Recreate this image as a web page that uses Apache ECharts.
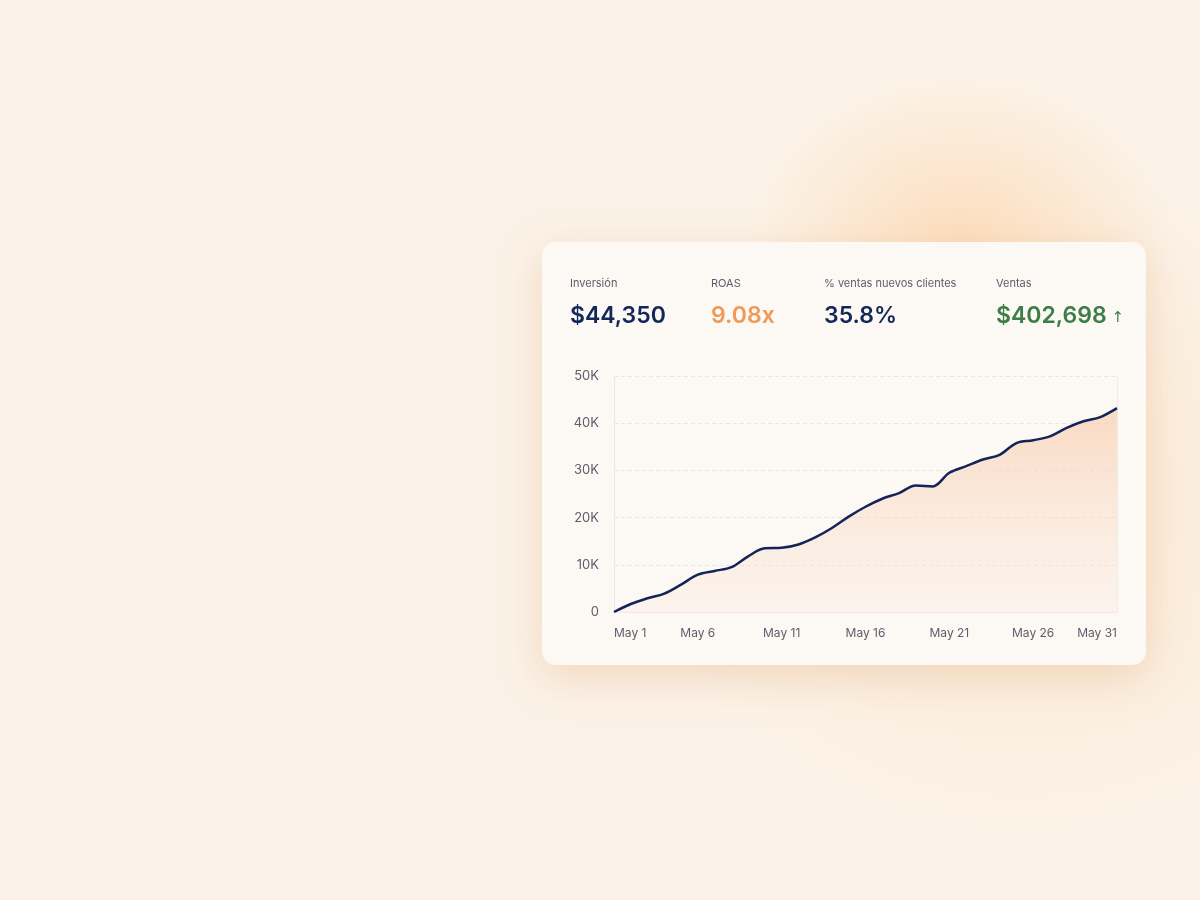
<!DOCTYPE html>
<html>
<head>
<meta charset="utf-8">
<script src="https://cdn.jsdelivr.net/npm/echarts@6/dist/echarts.min.js"></script>
<style>
  html, body { margin: 0; padding: 0; }
  body {
    width: 1200px; height: 900px; overflow: hidden;
    background:
      radial-gradient(ellipse 210px 160px at 960px 235px, rgba(253,216,178,0.75), rgba(253,216,178,0) 100%),
      radial-gradient(ellipse 380px 340px at 1020px 500px, rgba(252,224,194,0.5), rgba(252,224,194,0) 100%),
      #fbf2e7;
  }
  #canvas_main { width: 1200px; height: 900px; }
</style>
</head>
<body>
<div id="canvas_main"></div>
<script>
// KPI header
var kpiNames = ['Inversión', 'ROAS', '% ventas nuevos clientes', 'Ventas'];
var kpiValues = ['$44,350', '9.08x', '35.8%', '$402,698'];
var kpiArrows = ['', '', '', '↑'];
var kpiColors = ['#14275a', '#f09a58', '#14275a', '#3d7d48'];
var kpiLeft = [570, 711, 824, 996];

// daily cumulative sales, May 1 .. May 31
var days = [];
for (var d = 1; d <= 31; d++) days.push('May ' + d);
var sales = [0, 1700, 2900, 3900, 5800, 7900, 8700, 9500, 11800, 13500,
	13600, 14300, 15800, 17800, 20200, 22300, 24000, 25200, 26800, 26600,
	29500, 30900, 32300, 33300, 35800, 36400, 37200, 39000, 40400, 41300, 43200];

var yTicks = [0, 10000, 20000, 30000, 40000, 50000];

var myChart = echarts.init(document.getElementById('canvas_main'), null, { renderer: 'canvas' });

var titles = [];
for (var i = 0; i < kpiNames.length; i++) {
	titles.push({
		text: kpiNames[i],
		left: kpiLeft[i], top: 278,
		padding: 0,
		textStyle: { fontFamily: 'Inter', fontSize: 11, fontWeight: 400, color: '#5a5f6b' }
	});
	titles.push({
		text: '{v|' + kpiValues[i] + '}' + (kpiArrows[i] ? ' {a|' + kpiArrows[i] + '}' : ''),
		left: kpiLeft[i], top: 305,
		padding: 0,
		textStyle: {
			rich: {
				v: { fontFamily: 'Inter', fontSize: 23, fontWeight: 600, color: kpiColors[i] },
				a: { fontFamily: 'DejaVu Sans', fontSize: 15, fontWeight: 400, color: kpiColors[i], padding: [3, 0, 0, 0] }
			}
		}
	});
}

var option = {
	backgroundColor: 'transparent',
	animation: false,
	graphic: [{
		type: 'rect',
		z: -10,
		shape: { x: 542, y: 242, width: 604, height: 423, r: 14 },
		style: {
			fill: '#fcf8f4',
			shadowBlur: 40,
			shadowOffsetY: 12,
			shadowColor: 'rgba(225,165,115,0.35)'
		}
	}],
	title: titles,
	grid: { left: 614, right: 83, top: 376, bottom: 288, containLabel: false },
	xAxis: {
		type: 'category',
		data: days,
		boundaryGap: false,
		axisLine: { show: true, lineStyle: { color: '#f1ebe5', width: 1 } },
		axisTick: { show: false },
		axisLabel: {
			interval: 4,
			margin: 15,
			alignMinLabel: 'left',
			alignMaxLabel: 'right',
			fontFamily: 'Inter', fontSize: 12, color: '#5a5f6b'
		},
		splitLine: { show: false }
	},
	yAxis: [{
		type: 'value',
		min: 0, max: 50000, interval: 10000,
		axisLine: { show: true, lineStyle: { color: '#efe9e3', width: 1 } },
		axisTick: { show: false },
		axisLabel: {
			margin: 15,
			fontFamily: 'Inter', fontSize: 13, color: '#5a5f6b',
			formatter: function (v) {
				if (yTicks.indexOf(v) < 0) return '';
				return v === 0 ? '0' : (v / 1000) + 'K';
			}
		},
		splitLine: { show: true, lineStyle: { color: '#ebe5df', type: [4, 3], width: 1 } }
	}, {
		type: 'value',
		position: 'right',
		min: 0, max: 50000, interval: 10000,
		axisLine: { show: true, lineStyle: { color: '#f1ebe5', width: 1 } },
		axisTick: { show: false },
		axisLabel: { show: false },
		splitLine: { show: false }
	}],
	series: [{
		name: 'Ventas',
		type: 'line',
		data: sales,
		smooth: 0.35,
		symbol: 'none',
		lineStyle: { color: '#14245a', width: 2.5 },
		areaStyle: {
			color: new echarts.graphic.LinearGradient(0, 0, 0, 1, [
				{ offset: 0, color: 'rgba(248,198,162,0.85)' },
				{ offset: 1, color: 'rgba(250,226,208,0.3)' }
			])
		},
		z: 3
	}]
};
myChart.setOption(option);
</script>
</body>
</html>
